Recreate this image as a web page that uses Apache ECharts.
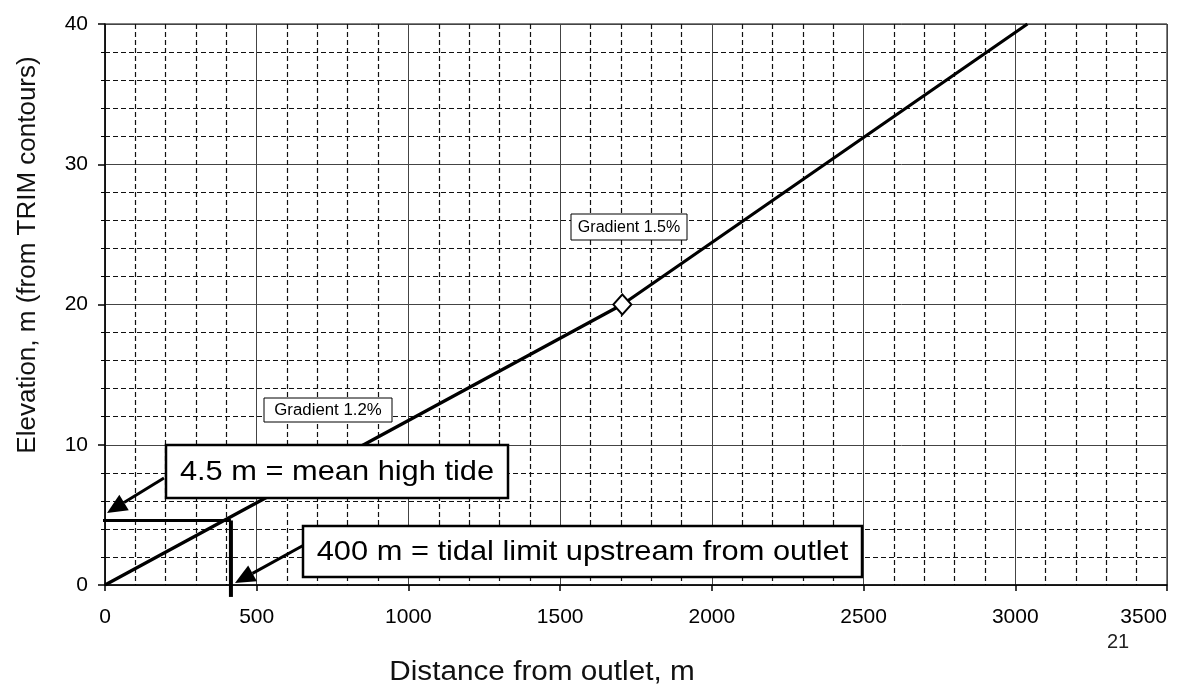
<!DOCTYPE html>
<html><head><meta charset="utf-8">
<script src="https://cdn.jsdelivr.net/npm/echarts@6/dist/echarts.min.js"></script>
<style>html,body{margin:0;padding:0;background:#fff}#c{width:1180px;height:687px}</style>
</head><body><div id="c"></div>
<script>
// Data
const profileX = [0, 1705, 3040];
const profileY = [0, 20, 40];
const breakPoint = [1705, 20];
const tideLevel = 4.6;
const tidalLimitX = 415;
const xTicks = [0, 3500, 500];
const yTicks = [0, 40, 10];
const xTitle = 'Distance from outlet, m';
const yTitle = 'Elevation, m (from TRIM contours)';
const note1 = '4.5 m = mean high tide';
const note2 = '400 m = tidal limit upstream from outlet';
const grad1 = 'Gradient 1.2%';
const grad2 = 'Gradient 1.5%';

const font = 'Arial, "Liberation Sans", sans-serif';
const chart = echarts.init(document.getElementById('c'), null, {renderer: 'canvas'});

function arrow(tx, ty, fx, fy, len, half) {
  const dx = fx - tx, dy = fy - ty, L = Math.hypot(dx, dy);
  const ux = dx / L, uy = dy / L, px = -uy, py = ux;
  const bx = tx + ux * len, by = ty + uy * len;
  return [
    {type: 'line', shape: {x1: fx, y1: fy, x2: bx, y2: by}, style: {stroke: '#000', lineWidth: 3}, z: 100},
    {type: 'polygon', shape: {points: [[tx, ty], [bx + px * half, by + py * half], [bx - px * half, by - py * half]]}, style: {fill: '#000'}, z: 100}
  ];
}
function box(x, y, w, h, text, size, lw, sx) {
  return [
    {type: 'rect', z: 110, shape: {x: x, y: y, width: w, height: h}, style: {fill: '#fff', stroke: '#000', lineWidth: lw}},
    {type: 'text', z: 111, x: x + w / 2, y: y + h / 2 + 1, scaleX: sx, style: {text: text, font: size + 'px ' + font, fill: '#000', align: 'center', verticalAlign: 'middle'}}
  ];
}

const dashed = {type: [5, 3], color: '#111', width: 1.2};
const option = {
  animation: false,
  grid: {left: 105, right: 13, top: 24, bottom: 102, show: true, borderColor: '#000', borderWidth: 1, outerBoundsMode: 'none', containLabel: false},
  xAxis: {
    type: 'value', min: xTicks[0], max: xTicks[1], interval: xTicks[2],
    axisLine: {lineStyle: {color: '#000', width: 1.5}},
    axisTick: {show: true, length: 6, lineStyle: {color: '#000', width: 1.5}},
    minorTick: {show: false, splitNumber: 5},
    axisLabel: {color: '#000', fontSize: 21, fontFamily: font, margin: 22, alignMaxLabel: 'right',
      formatter: v => String(v)},
    splitLine: {show: true, lineStyle: {color: '#444', width: 1}},
    minorSplitLine: {show: true, lineStyle: dashed}
  },
  yAxis: {
    type: 'value', min: yTicks[0], max: yTicks[1], interval: yTicks[2],
    axisLine: {show: true, lineStyle: {color: '#000', width: 1.5}},
    axisTick: {show: true, length: 7, lineStyle: {color: '#000', width: 1.5}},
    minorTick: {show: true, splitNumber: 5, length: 4, lineStyle: {color: '#000'}},
    axisLabel: {color: '#000', fontSize: 21, fontFamily: font, margin: 17},
    splitLine: {show: true, lineStyle: {color: '#444', width: 1}},
    minorSplitLine: {show: true, lineStyle: dashed}
  },
  series: [
    {type: 'line', data: profileX.map((x, i) => [x, profileY[i]]), symbol: 'none',
      lineStyle: {color: '#000', width: 3.2}, z: 5},
    {type: 'scatter', data: [breakPoint], symbol: 'diamond', symbolSize: [18, 20],
      itemStyle: {color: '#fff', borderColor: '#000', borderWidth: 2, opacity: 1}, z: 6},
    {type: 'line', data: [[-35, tideLevel], [tidalLimitX, tideLevel]], symbol: 'none', clip: false,
      lineStyle: {color: '#000', width: 3, type: 'solid'}, z: 7},
    {type: 'line', data: [[tidalLimitX, tideLevel], [tidalLimitX, -0.85]], symbol: 'none', clip: false,
      lineStyle: {color: '#000', width: 4, type: 'solid'}, z: 7}
  ],
  graphic: [
    {type: 'text', x: 542, y: 673, scaleX: 1.1, style: {text: xTitle, font: '27px ' + font, fill: '#111', align: 'center', verticalAlign: 'middle'}},
    {type: 'text', x: 28, y: 255, rotation: Math.PI / 2, style: {text: yTitle, font: '26px ' + font, fill: '#111', align: 'center', verticalAlign: 'middle'}},
    {type: 'text', x: 1118, y: 642, style: {text: '21', font: '20px ' + font, fill: '#222', align: 'center', verticalAlign: 'middle'}},
    ...box(166, 445, 342, 53, note1, 28, 2.5, 1.1),
    ...box(303, 526, 559, 51, note2, 28, 2.5, 1.1),
    ...box(264, 398, 128, 24, grad1, 16, 1, 1.05),
    ...box(571, 214, 116, 26, grad2, 16, 1, 1.0),
    ...arrow(107, 513, 164, 478, 20, 9),
    ...arrow(235, 583, 304, 545, 20, 9)
  ]
};
chart.setOption(option);
</script></body></html>
